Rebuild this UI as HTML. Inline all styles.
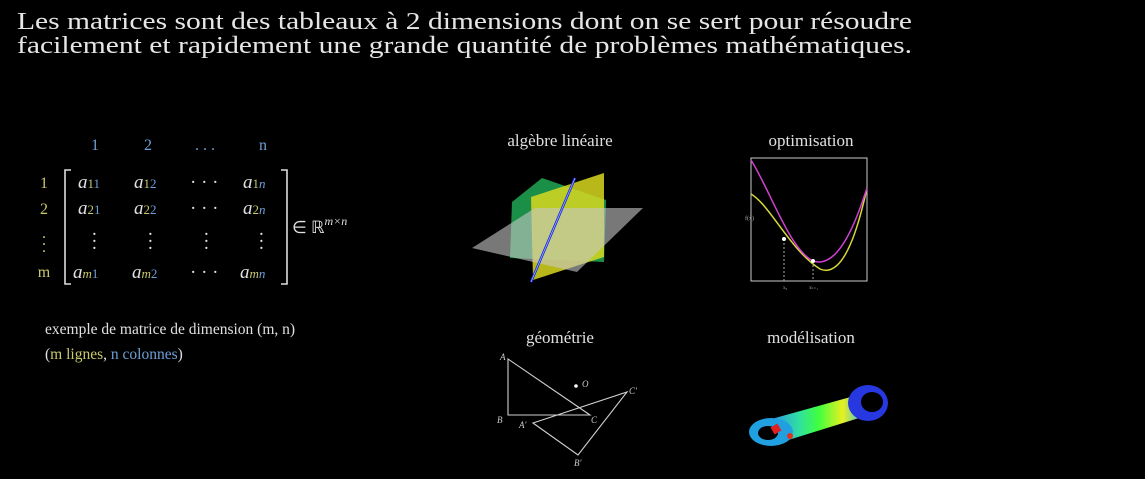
<!DOCTYPE html>
<html><head><meta charset="utf-8"><style>
html,body{margin:0;padding:0;background:#000;width:1145px;height:479px;overflow:hidden}
svg text{font-family:"Liberation Serif",serif}
</style></head><body>
<svg width="1145" height="479" viewBox="0 0 1145 479" xmlns="http://www.w3.org/2000/svg">
<defs>
<linearGradient id="rod" x1="0" x2="1" y1="0" y2="0">
<stop offset="0" stop-color="#2aa0e0"/><stop offset="0.25" stop-color="#30e0a0"/><stop offset="0.45" stop-color="#40ff40"/><stop offset="0.7" stop-color="#e8f020"/><stop offset="0.9" stop-color="#40c0e0"/><stop offset="1" stop-color="#2040e0"/>
</linearGradient>
</defs>
<rect width="1145" height="479" fill="#000"/>
<g fill="#e6e6e6" font-size="24">
<text x="17" y="29" textLength="895" lengthAdjust="spacingAndGlyphs">Les matrices sont des tableaux à 2 dimensions dont on se sert pour résoudre</text>
<text x="17" y="53" textLength="895" lengthAdjust="spacingAndGlyphs">facilement et rapidement une grande quantité de problèmes mathématiques.</text>
</g>
<g font-size="16">
<g fill="#6f9fd6" text-anchor="middle">
<text x="95" y="150">1</text><text x="148" y="150">2</text><text x="205" y="150">. . .</text><text x="263" y="150">n</text>
</g>
<g fill="#c9c96a" text-anchor="middle">
<text x="44" y="188">1</text><text x="44" y="214">2</text>
<text x="44" y="238">.</text><text x="44" y="245">.</text><text x="44" y="252">.</text>
<text x="44" y="277">m</text>
</g>
<path d="M71,170 H65 V284 H71 M281,170 H287 V284 H281" stroke="#ddd" stroke-width="1.6" fill="none"/>
<g fill="#e0e0e0" font-style="italic" font-size="19">
<text x="78" y="188">a<tspan font-size="13" font-style="normal" fill="#c9c96a">1</tspan><tspan font-size="13" font-style="normal" fill="#6f9fd6">1</tspan></text>
<text x="134" y="188">a<tspan font-size="13" font-style="normal" fill="#c9c96a">1</tspan><tspan font-size="13" font-style="normal" fill="#6f9fd6">2</tspan></text>
<text x="190" y="188" font-style="normal">· · ·</text>
<text x="243" y="188">a<tspan font-size="13" font-style="normal" fill="#c9c96a">1</tspan><tspan font-size="13" fill="#6f9fd6">n</tspan></text>
<text x="78" y="214">a<tspan font-size="13" font-style="normal" fill="#c9c96a">2</tspan><tspan font-size="13" font-style="normal" fill="#6f9fd6">1</tspan></text>
<text x="134" y="214">a<tspan font-size="13" font-style="normal" fill="#c9c96a">2</tspan><tspan font-size="13" font-style="normal" fill="#6f9fd6">2</tspan></text>
<text x="190" y="214" font-style="normal">· · ·</text>
<text x="243" y="214">a<tspan font-size="13" font-style="normal" fill="#c9c96a">2</tspan><tspan font-size="13" fill="#6f9fd6">n</tspan></text>
<g font-style="normal">
<text x="92" y="235">.</text><text x="92" y="242">.</text><text x="92" y="249">.</text>
<text x="148" y="235">.</text><text x="148" y="242">.</text><text x="148" y="249">.</text>
<text x="204" y="235">.</text><text x="204" y="242">.</text><text x="204" y="249">.</text>
<text x="259" y="235">.</text><text x="259" y="242">.</text><text x="259" y="249">.</text>
</g>
<text x="73" y="278">a<tspan font-size="13" fill="#c9c96a">m</tspan><tspan font-size="13" font-style="normal" fill="#6f9fd6">1</tspan></text>
<text x="132" y="278">a<tspan font-size="13" fill="#c9c96a">m</tspan><tspan font-size="13" font-style="normal" fill="#6f9fd6">2</tspan></text>
<text x="190" y="278" font-style="normal">· · ·</text>
<text x="240" y="278">a<tspan font-size="13" fill="#c9c96a">m</tspan><tspan font-size="13" fill="#6f9fd6">n</tspan></text>
</g>
<text x="292" y="233" fill="#e0e0e0" font-size="17">∈ ℝ<tspan font-size="12" dy="-8" font-style="italic">m×n</tspan></text>
</g>
<text x="45" y="334" fill="#e0e0e0" font-size="15.5">exemple de matrice de dimension (m, n)</text>
<text x="45" y="359" font-size="15.5"><tspan fill="#e0e0e0">(</tspan><tspan fill="#c9c96a">m lignes</tspan><tspan fill="#e0e0e0">, </tspan><tspan fill="#6f9fd6">n colonnes</tspan><tspan fill="#e0e0e0">)</tspan></text>

<g fill="#e0e0e0" font-size="17" text-anchor="middle">
<text x="560" y="146">algèbre linéaire</text>
<text x="811" y="146">optimisation</text>
<text x="560" y="343">géométrie</text>
<text x="811" y="343">modélisation</text>
</g>

<g>
<polygon points="512,202 542,178 606,200 604,262 510,258" fill="#1e9e50" opacity="0.9"/>
<polygon points="531,197 604,173 604,257 533,280" fill="#d8d820" opacity="0.85"/>
<polygon points="472,248 535,208 643,208 577,272" fill="#c8c8c8" opacity="0.6"/>
<line x1="575" y1="178" x2="531" y2="282" stroke="#1a2ad8" stroke-width="2.5"/>
<line x1="575" y1="178" x2="531" y2="282" stroke="#9ab0ff" stroke-width="0.8"/>
</g>

<g>
<rect x="751" y="158" width="116" height="123" fill="none" stroke="#ccc" stroke-width="1"/>
<path d="M751,194 C770,205 790,250 820,269 C845,280 860,220 867,188" stroke="#d8d83a" stroke-width="1.5" fill="none"/>
<path d="M751,160 C770,190 790,250 813,261 C840,270 858,215 867,188" stroke="#d040d0" stroke-width="1.5" fill="none"/>
<line x1="784" y1="239" x2="784" y2="281" stroke="#aaa" stroke-dasharray="2,2"/>
<line x1="813" y1="261" x2="813" y2="281" stroke="#aaa" stroke-dasharray="2,2"/>
<circle cx="784" cy="239" r="2" fill="#fff"/><circle cx="813" cy="261" r="2" fill="#fff"/>
<text x="745" y="220" font-size="6" fill="#aaa">f(x)</text>
<text x="783" y="289" font-size="5" fill="#aaa">x₀</text><text x="809" y="289" font-size="5" fill="#aaa">xₖ₊₁</text>
</g>

<g stroke="#d0d0d0" stroke-width="1.1" fill="none">
<polygon points="508,359 508,415 590,415"/>
<polygon points="533,423 627,392 578,455"/>
<g fill="#ccc" stroke="none" font-size="9" font-style="italic">
<text x="500" y="360">A</text><text x="497" y="423">B</text><text x="591" y="423">C</text>
<text x="519" y="428">A'</text><text x="629" y="394">C'</text><text x="574" y="466">B'</text>
<text x="582" y="387">O</text><circle cx="576" cy="386" r="1.8" fill="#fff"/>
</g>
</g>

<g>
<polygon points="775,418 865,393 872,414 782,442" fill="url(#rod)"/>
<ellipse cx="868" cy="403" rx="20" ry="18" fill="#2838e0"/>
<ellipse cx="872" cy="402" rx="11" ry="10" fill="#000"/>
<ellipse cx="771" cy="432" rx="22" ry="14" fill="#20a0e0"/>
<ellipse cx="768" cy="433" rx="10" ry="7" fill="#000"/>
<rect x="772" y="425" width="8" height="8" fill="#e02020" transform="rotate(-30 776 429)"/>
<circle cx="790" cy="436" r="3" fill="#e03020"/>
</g>
</svg>
</body></html>
